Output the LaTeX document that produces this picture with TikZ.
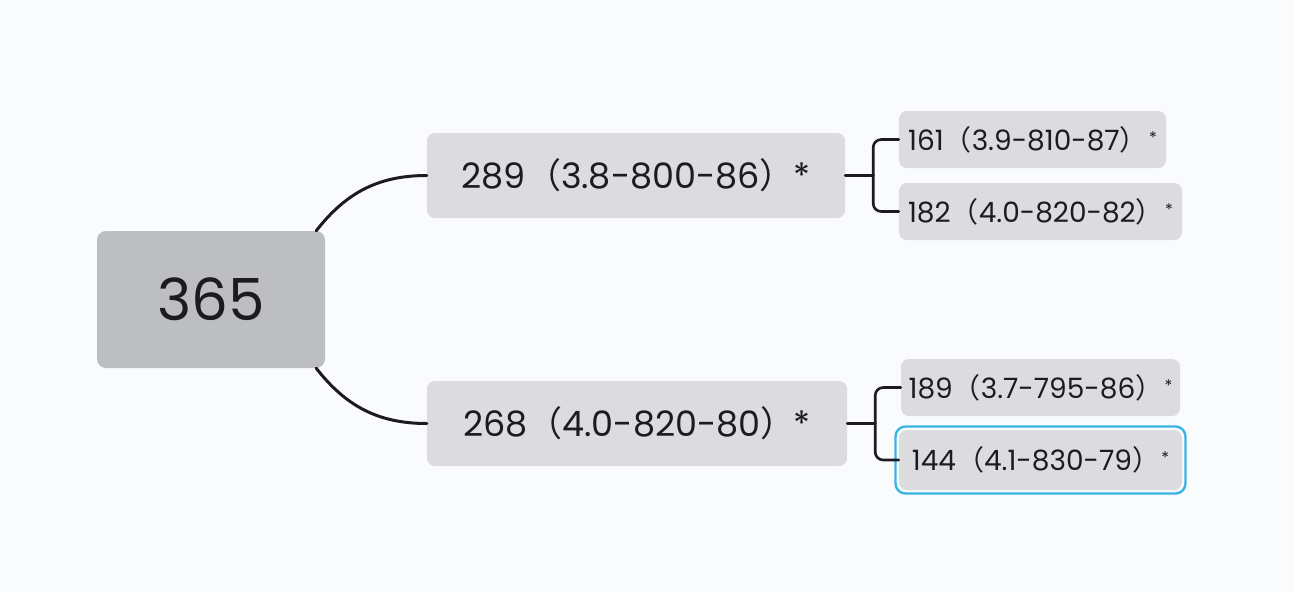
\documentclass[tikz,border=0pt]{standalone}
\usepackage{fontspec}
\setmainfont{Poppins}
\newfontfamily\cjk{Noto Sans CJK SC}
\definecolor{bggray}{HTML}{FAFBFC}
\definecolor{rootgray}{HTML}{BDBEC0}
\definecolor{boxgray}{HTML}{DCDCDE}
\definecolor{inkblack}{HTML}{1C1C20}
\definecolor{selblue}{HTML}{3AB4E2}
\newcommand{\fwl}{{\cjk （}}
\newcommand{\fwr}{{\cjk ）}}
\newcommand{\midstar}{\hspace{-.05em}*}
\newcommand{\leafstar}{\hspace{.05em}\raisebox{.25em}{\fontsize{16}{16}\selectfont *}}

\begin{document}
\begin{tikzpicture}[x=1pt,y=-1pt, text=inkblack,
  rootbox/.style={fill=rootgray, rounded corners=9pt, minimum width=228pt, minimum height=137pt, font=\fontsize{58}{60}\selectfont},
  midbox/.style={fill=boxgray, rounded corners=8pt, minimum height=85pt, font=\fontsize{35}{40}\selectfont},
  leafbox/.style={fill=boxgray, rounded corners=8pt, minimum height=57pt, inner xsep=4pt, font=\fontsize{28}{32}\selectfont},
  link/.style={draw=inkblack, line width=3pt, line cap=round},
  bracket/.style={draw=inkblack, line width=2.6pt, line cap=round, rounded corners=8pt}]
\fill[bggray] (0,0) rectangle (1294,592);
\useasboundingbox (0,0) rectangle (1294,592);
\node (root) at (211,299.5) [rootbox] {365};
\node (a) at (636,175.5) [midbox, minimum width=418pt] {289\fwl 3.8-800-86\fwr\midstar};
\node (b) at (637,423.5) [midbox, minimum width=420pt] {268\fwl 4.0-820-80\fwr\midstar};
\node (a1) at (1032.5,139.5) [leafbox, minimum width=267pt] {161\fwl 3.9-810-87\fwr\leafstar};
\node (a2) at (1040.5,211.5) [leafbox, minimum width=283pt] {182\fwl 4.0-820-82\fwr\leafstar};
\node (b1) at (1040.5,387.5) [leafbox, minimum width=279pt] {189\fwl 3.7-795-86\fwr\leafstar};
\node (b2) at (1040.5,460) [leafbox, minimum width=283pt, minimum height=60pt] {144\fwl 4.1-830-79\fwr\leafstar};
\node (sel) at (b2) [draw=selblue, line width=2.4pt, rounded corners=10pt, minimum width=290pt, minimum height=67pt] {};
\coordinate (aj) at ([xshift=28pt]a.east);
\coordinate (bj) at ([xshift=28pt]b.east);
\draw[link] ([xshift=-9pt]root.north east) to[out=52,in=180] (a.west);
\draw[link] ([xshift=-9pt]root.south east) to[out=-52,in=180] (b.west);
\draw[bracket] (a.east) -- (aj);
\draw[bracket] (aj) |- (a1.west);
\draw[bracket] (aj) |- (a2.west);
\draw[bracket] (b.east) -- (bj);
\draw[bracket] (bj) |- (b1.west);
\draw[bracket] (bj) |- (b2.west);
\end{tikzpicture}
\end{document}
